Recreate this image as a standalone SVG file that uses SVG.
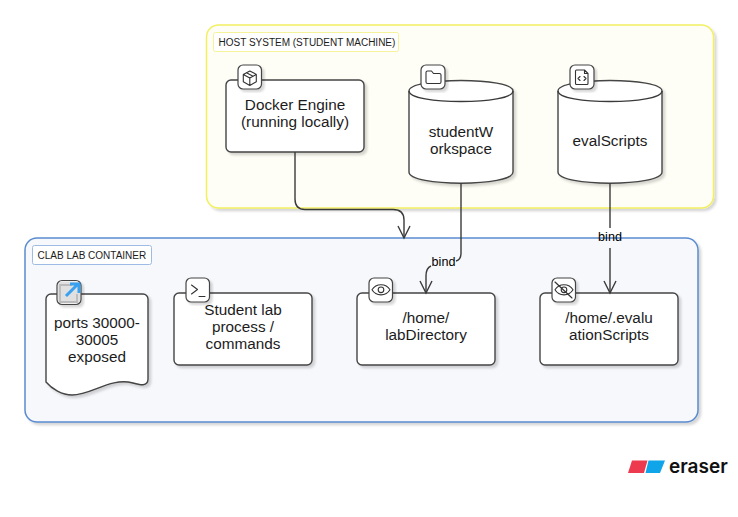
<svg xmlns="http://www.w3.org/2000/svg" width="738" height="517" viewBox="0 0 738 517">
<style>
text{font-family:"Liberation Sans",Arial,sans-serif;fill:#1c1c1c}
.t{font-size:15.3px;text-anchor:middle}
.l{font-size:10px}
.e{font-size:12.600px;text-anchor:middle;fill:#000}
.n{fill:#fff;stroke:#444;stroke-width:1.4;filter:url(#s)}
.c{fill:none;stroke:#3a3a3a;stroke-width:1.4}
.i{fill:#fff;stroke:#444;stroke-width:1.2;filter:url(#s)}
.g{fill:none;stroke:#333;stroke-width:1.1;stroke-linecap:round;stroke-linejoin:round}
</style>
<defs>
<filter id="s" x="-10%" y="-10%" width="125%" height="125%"><feDropShadow dx="2.5" dy="2.5" stdDeviation="0.8" flood-color="#000" flood-opacity="0.16"/></filter>
<marker id="a" markerUnits="userSpaceOnUse" markerWidth="16" markerHeight="16" refX="13" refY="7" orient="auto"><path d="M1 1L13 7L1 13" fill="none" stroke="#3a3a3a" stroke-width="1.4"/></marker>
</defs>
<rect width="738" height="517" fill="#fff"/>
<g id="host-system">
<rect x="206.500" y="25" width="507" height="183" rx="12" fill="#fefef6" stroke="#f2f060" stroke-width="1.5" filter="url(#s)"/>
<rect x="213.500" y="32.500" width="185" height="19" rx="2" fill="#fff" stroke="#f4f29a"/>
<text class="l" x="218.500" y="45.500">HOST SYSTEM (STUDENT MACHINE)</text>
</g>
<g id="clab-container">
<rect x="25" y="238" width="673" height="184" rx="12" fill="#f7f8fc" stroke="#5a8bd0" stroke-width="1.5" filter="url(#s)"/>
<rect x="32.500" y="245.500" width="119" height="19" rx="2" fill="#fff" stroke="#9dbbe4"/>
<text class="l" x="37.500" y="258.500">CLAB LAB CONTAINER</text>
</g>
<g id="docker-engine">
<rect class="n" x="226" y="80" width="138" height="72" rx="5"/>
<text class="t" x="295" y="110">Docker Engine</text>
<text class="t" x="295" y="127">(running locally)</text>
<rect class="i" x="238" y="65" width="23.500" height="24" rx="5"/>
<path class="g" d="M249.800 71l6.500 3.400v7.400l-6.500 3.600-6.500-3.600v-7.400zM243.300 74.400l6.500 3.500 6.500-3.500M249.800 77.900v7.500M246.500 72.700l6.500 3.500"/>
</g>
<g id="student-workspace">
<path class="n" d="M409 91C409 77 513 77 513 91V172C513 187 409 187 409 172Z"/>
<path class="c" d="M409 91C409 105 513 105 513 91"/>
<text class="t" x="461" y="137">studentW</text>
<text class="t" x="461" y="154">orkspace</text>
<rect class="i" x="421" y="65" width="24" height="24" rx="5"/>
<path class="g" d="M426 72.500a1.500 1.500 0 0 1 1.500-1.500h4l2 2.500h6a1.500 1.500 0 0 1 1.500 1.500v7a1.500 1.500 0 0 1-1.500 1.500h-12a1.500 1.500 0 0 1-1.500-1.500z"/>
</g>
<g id="eval-scripts">
<path class="n" d="M558 91C558 77 662 77 662 91V172C662 187 558 187 558 172Z"/>
<path class="c" d="M558 91C558 105 662 105 662 91"/>
<text class="t" x="610" y="145.500">evalScripts</text>
<rect class="i" x="570" y="65" width="24" height="24" rx="5"/>
<path class="g" d="M576.500 70h8l3.500 3.500v10a1 1 0 0 1-1 1h-10.500a1 1 0 0 1-1-1v-12.500a1 1 0 0 1 1-1zM584.500 70v3.500h3.500M580 76.500l-2 2 2 2M584 76.500l2 2-2 2"/>
</g>
<g id="ports">
<path class="n" d="M46 299a5 5 0 0 1 5-5H143a5 5 0 0 1 5 5V379C148 387 140 385 133 383C110 377 92 395 72 395C62 395 52 389 46 382Z"/>
<text class="t" x="97" y="327.500">ports 30000-</text>
<text class="t" x="97" y="344.500">30005</text>
<text class="t" x="97" y="361.500">exposed</text>
<rect class="i" x="57" y="280.500" width="24" height="24" rx="5"/>
<rect x="58" y="281.500" width="22" height="22" rx="4" fill="#999" fill-opacity="0.3"/>
<path d="M72 285h-12v17h17v-8" fill="none" stroke="#bbb" stroke-width="1.800"/>
<path d="M66 296L77 285M70 284h9v9" fill="none" stroke="#3aa0f0" stroke-width="3"/>
</g>
<g id="student-process">
<rect class="n" x="174" y="293" width="138" height="72" rx="5"/>
<text class="t" x="243" y="315">Student lab</text>
<text class="t" x="243" y="332">process /</text>
<text class="t" x="243" y="349">commands</text>
<rect class="i" x="186" y="278" width="23.500" height="24" rx="5"/>
<path class="g" d="M191.500 285l6 4.500-6 4.500M199 296.500h6"/>
</g>
<g id="lab-directory">
<rect class="n" x="357" y="293" width="138" height="72" rx="5"/>
<text class="t" x="426" y="323">/home/</text>
<text class="t" x="426" y="340">labDirectory</text>
<rect class="i" x="369" y="278" width="23.500" height="24" rx="5"/>
<path class="g" d="M372 289.800C376 283 386 283 390 289.800C386 296.500 376 296.500 372 289.800Z"/>
<circle class="g" cx="381" cy="289.800" r="2.800"/>
</g>
<g id="evaluation-scripts">
<rect class="n" x="540" y="293" width="138" height="72" rx="5"/>
<text class="t" x="609" y="323">/home/.evalu</text>
<text class="t" x="609" y="340">ationScripts</text>
<rect class="i" x="552" y="278" width="23.500" height="24" rx="5"/>
<path class="g" d="M555 289.800C559 283 569 283 573 289.800C569 296.500 559 296.500 555 289.800Z"/>
<circle class="g" cx="564" cy="289.800" r="2.800"/>
<path class="g" d="M555 282l17 16"/>
</g>
<g id="connectors">
<path class="c" marker-end="url(#a)" d="M295 152V199Q295 209.500 305 209.500H393Q404 209.500 404 220V238"/>
<path class="c" d="M461 183V253Q461 260 456 261"/>
<path class="c" marker-end="url(#a)" d="M431 266Q426 268 426 276V293"/>
<path class="c" d="M610 183V228"/>
<path class="c" marker-end="url(#a)" d="M610 248V293"/>
<text class="e" x="443.500" y="266">bind</text>
<text class="e" x="610" y="241">bind</text>
</g>
<g id="eraser-logo">
<path d="M632 460.500H647.500L644 473H628Z" fill="#ee3a4e"/>
<path d="M648.500 460.500H665L660 473H645.500Z" fill="#10a4e8"/>
<text x="669" y="473" style="font-family:Inter,'Liberation Sans',sans-serif;font-size:19px;font-weight:600;fill:#111">eraser</text>
</g>
</svg>
